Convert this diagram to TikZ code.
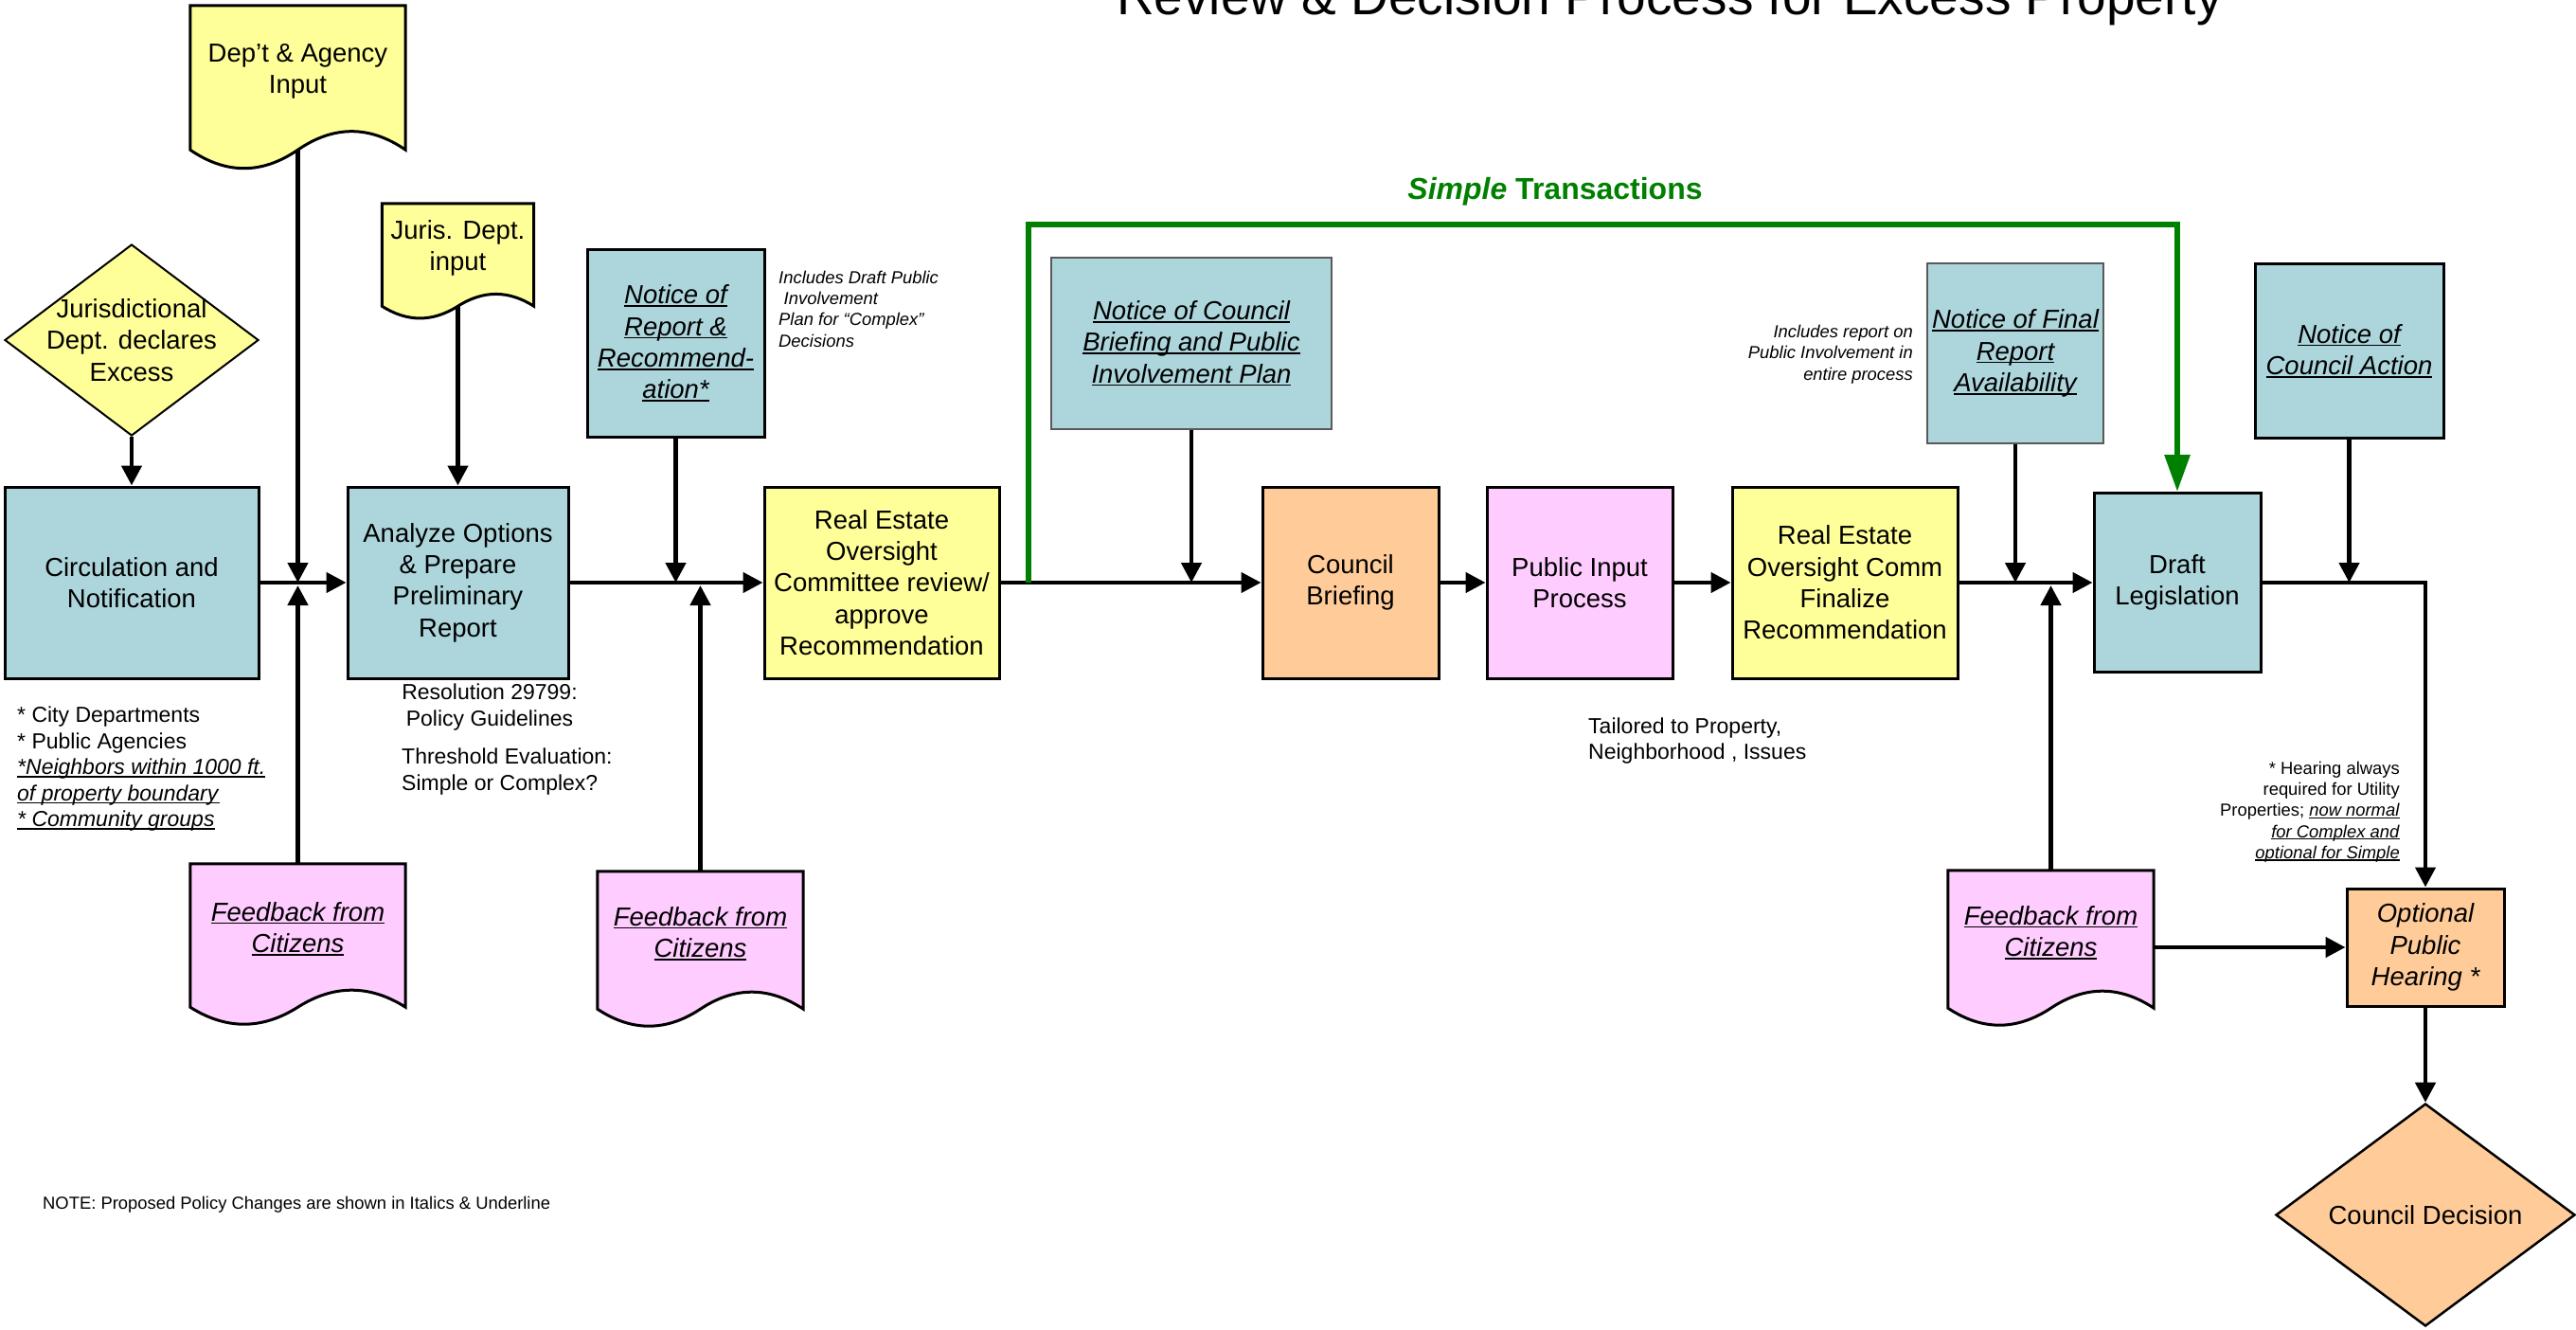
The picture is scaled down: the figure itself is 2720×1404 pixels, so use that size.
\documentclass[tikz,border=0pt]{standalone}
\usepackage{fontspec}
\setmainfont{Liberation Sans}
\usetikzlibrary{arrows.meta, shapes.geometric, calc, backgrounds}

\definecolor{paleblue}{RGB}{173,214,220}
\definecolor{paleyellow}{RGB}{255,255,153}
\definecolor{palepink}{RGB}{255,204,255}
\definecolor{peach}{RGB}{255,204,153}
\definecolor{simplegreen}{RGB}{0,128,0}

\newcommand{\boxfont}{\fontsize{27.5}{33.3}\selectfont}
\newcommand{\notefont}{\fontsize{23}{27.5}\selectfont}
\newcommand{\remarkfont}{\fontsize{18.4}{22.3}\selectfont}
\newsavebox{\undlbox}
\newcommand{\undl}[1]{\sbox{\undlbox}{#1}\rlap{\rule[-0.12em]{\wd\undlbox}{0.065em}}\usebox{\undlbox}}
\newcommand{\docshape}[3]{%
  \begin{pgfonlayer}{background}
    \path[docline, fill=#2] ([yshift=-14pt]#1.north west) -- ([yshift=-14pt]#1.north east) -- (#1.south east)
      .. controls ($(#1.south east)!1/3!(#1.south)+(0pt,#3)$) and ($(#1.south east)!2/3!(#1.south)+(0pt,#3)$) .. (#1.south)
      .. controls ($(#1.south)!1/3!(#1.south west)+(0pt,-#3)$) and ($(#1.south)!2/3!(#1.south west)+(0pt,-#3)$) .. (#1.south west)
      -- cycle;
  \end{pgfonlayer}
  \coordinate (#1-top) at ([yshift=-14pt]#1.north);
}

\begin{document}
\begin{tikzpicture}[x=1pt, y=-1pt,
    box/.style={rectangle, draw, line width=3pt, align=center, font=\boxfont, inner sep=1pt, minimum height=202pt},
    notice/.style={box, fill=paleblue, font=\boxfont\itshape},
    faint/.style={draw=black!65, line width=1.5pt},
    decide/.style={diamond, draw, line width=2pt, inner sep=0pt, align=center, font=\boxfont},
    doc/.style={rectangle, inner sep=1pt, align=center, font=\boxfont},
    docline/.style={draw, line width=3pt},
    boxtext/.style={align=center, font=\boxfont, inner sep=0pt},
    note/.style={font=\notefont, inner sep=0pt},
    remark/.style={font=\remarkfont, inner sep=0pt},
    aside/.style={remark, font=\remarkfont\itshape},
    flow/.style={line width=4.5pt, -{Triangle[length=21pt, width=21pt]}},
    feed/.style={shorten >=3pt},
    simple/.style={draw=simplegreen, line width=6pt, -{Triangle[length=39pt, width=26pt]}}]
    \useasboundingbox (0,0) rectangle (2720,1404);
    \begin{pgfonlayer}{background}
        \fill[white] (0,0) rectangle (2720,1404);
    \end{pgfonlayer}

    \node[font=\fontsize{55}{60}\selectfont, anchor=base, inner sep=0pt] (title) at (1763, 16) {Review \& Decision Process for Excess Property};
    \node[font=\fontsize{32}{36}\selectfont\bfseries, text=simplegreen, inner sep=0pt] (simplelbl) at (1642, 202) {\textit{Simple} Transactions};

    \node[decide, fill=paleyellow, minimum width=268pt, minimum height=202pt] (decl) at (139, 359) {};
    \node[boxtext] (decltext) at (decl) {Jurisdictional\\Dept. declares\\Excess};
    \node[box, fill=paleblue, minimum width=268pt] (circ) at (139, 615) {Circulation and\\Notification};
    \node[box, fill=paleblue, minimum width=233pt] (analyze) at (483.5, 615) {Analyze Options\\\& Prepare\\Preliminary\\Report};
    \node[box, fill=paleyellow, minimum width=248pt] (reoc) at (931, 615) {Real Estate\\Oversight\\Committee review/\\approve\\Recommendation};
    \node[box, fill=peach, minimum width=186pt] (brief) at (1426, 615) {Council\\Briefing};
    \node[box, fill=palepink, minimum width=196pt] (pubin) at (1668, 615) {Public Input\\Process};
    \node[box, fill=paleyellow, minimum width=238pt] (reocfin) at (1948, 615) {Real Estate\\Oversight Comm\\Finalize\\Recommendation};
    \node[box, fill=paleblue, minimum width=176pt, minimum height=189pt] (draft) at (2299, 615) {Draft\\Legislation};
    \node[box, fill=peach, font=\boxfont\itshape, minimum width=166pt, minimum height=124pt] (hearing) at (2561, 1000) {Optional\\Public\\Hearing *};
    \node[decide, fill=peach, line width=2.5pt, minimum width=316pt, minimum height=235pt] (decision) at (2561, 1282.5) {Council Decision};

    \node[notice, minimum width=187pt, minimum height=197pt] (notrep) at (713.5, 362.5) {\undl{Notice of}\\\undl{Report \&}\\\undl{Recommend-}\\\undl{ation*}};
    \node[notice, faint, minimum width=296pt, minimum height=181pt] (notbrief) at (1258, 362.5) {\undl{Notice of Council}\\\undl{Briefing and Public}\\\undl{Involvement Plan}};
    \node[notice, faint, minimum width=186pt, minimum height=190pt] (notfinal) at (2128, 373) {\undl{Notice of Final}\\\undl{Report}\\\undl{Availability}};
    \node[notice, minimum width=199pt, minimum height=183pt] (notaction) at (2480.5, 370.5) {\undl{Notice of}\\\undl{Council Action}};

    \node[doc, minimum width=227pt, minimum height=166pt] (deptin) at (314.5, 75) {Dep’t \& Agency\\Input};
    \node[doc, minimum width=160pt, minimum height=122pt] (jurin) at (483.5, 262) {Juris. Dept.\\input};
    \node[doc, font=\boxfont\itshape, minimum width=227pt, minimum height=165pt] (fb1) at (314.5, 980.5) {\undl{Feedback from}\\\undl{Citizens}};
    \node[doc, font=\boxfont\itshape, minimum width=217pt, minimum height=159pt] (fb2) at (739.5, 985.5) {\undl{Feedback from}\\\undl{Citizens}};
    \node[doc, font=\boxfont\itshape, minimum width=217pt, minimum height=159pt] (fb3) at (2165.5, 984.5) {\undl{Feedback from}\\\undl{Citizens}};
    \docshape{deptin}{paleyellow}{26pt}
    \docshape{jurin}{paleyellow}{17pt}
    \docshape{fb1}{palepink}{24pt}
    \docshape{fb2}{palepink}{24pt}
    \docshape{fb3}{palepink}{24pt}

    \node[note, anchor=west, align=left] (groups) at (18, 812) {* City Departments\\* Public Agencies\\\undl{\textit{*Neighbors within 1000 ft.}}\\\undl{\textit{of property boundary}}\\\undl{\textit{* Community groups}}};
    \node[note, align=center] (resolution) at (517, 746.5) {Resolution 29799:\\Policy Guidelines};
    \node[note, anchor=west, align=left] (threshold) at (424, 814.5) {Threshold Evaluation:\\Simple or Complex?};
    \node[aside, anchor=west, align=left] (draftplan) at (822, 326) {Includes Draft Public\\\hspace*{0.3em}Involvement\\Plan for “Complex”\\Decisions};
    \node[aside, anchor=east, align=right] (finalnote) at (2020, 374) {Includes report on\\Public Involvement in\\entire process};
    \node[note, anchor=west, align=left] (tailored) at (1677, 782) {Tailored to Property,\\Neighborhood , Issues};
    \node[remark, anchor=east, align=right] (hearnote) at (2534, 857) {* Hearing always\\required for Utility\\Properties; \undl{\textit{now normal}}\\\undl{\textit{for Complex and}}\\\undl{\textit{optional for Simple}}};
    \node[remark, anchor=west] (footnote) at (45, 1272) {NOTE: Proposed Policy Changes are shown in Italics \& Underline};

    \coordinate (j1) at (deptin |- circ);
    \coordinate (j2) at (notrep |- reoc);
    \coordinate (j2b) at (fb2 |- reoc);
    \coordinate (j3) at (notbrief |- brief);
    \coordinate (j4) at (notfinal |- draft);
    \coordinate (j4b) at (fb3 |- draft);
    \coordinate (j5) at (notaction |- draft);
    \coordinate (gstart) at (1086, 615);
    \coordinate (gcorner) at (2299, 237);

    \path[flow]
        (decl) edge (circ)
        (circ) edge (analyze)
        (deptin) edge (j1)
        (fb1-top) edge[feed] (j1)
        (jurin) edge (analyze)
        (analyze) edge (reoc)
        (notrep) edge (j2)
        (fb2-top) edge[feed] (j2b)
        (reoc) edge (brief)
        (notbrief) edge (j3)
        (brief) edge (pubin)
        (pubin) edge (reocfin)
        (reocfin) edge (draft)
        (notfinal) edge (j4)
        (fb3-top) edge[feed] (j4b)
        (notaction) edge (j5)
        (hearing) edge (decision)
    ;
    \draw[flow] (draft) -| (hearing);
    \draw[flow] (hearing.west -| fb3.east) -- (hearing);
    \draw[simple] (gstart) |- (gcorner) -- (draft);
\end{tikzpicture}
\end{document}
